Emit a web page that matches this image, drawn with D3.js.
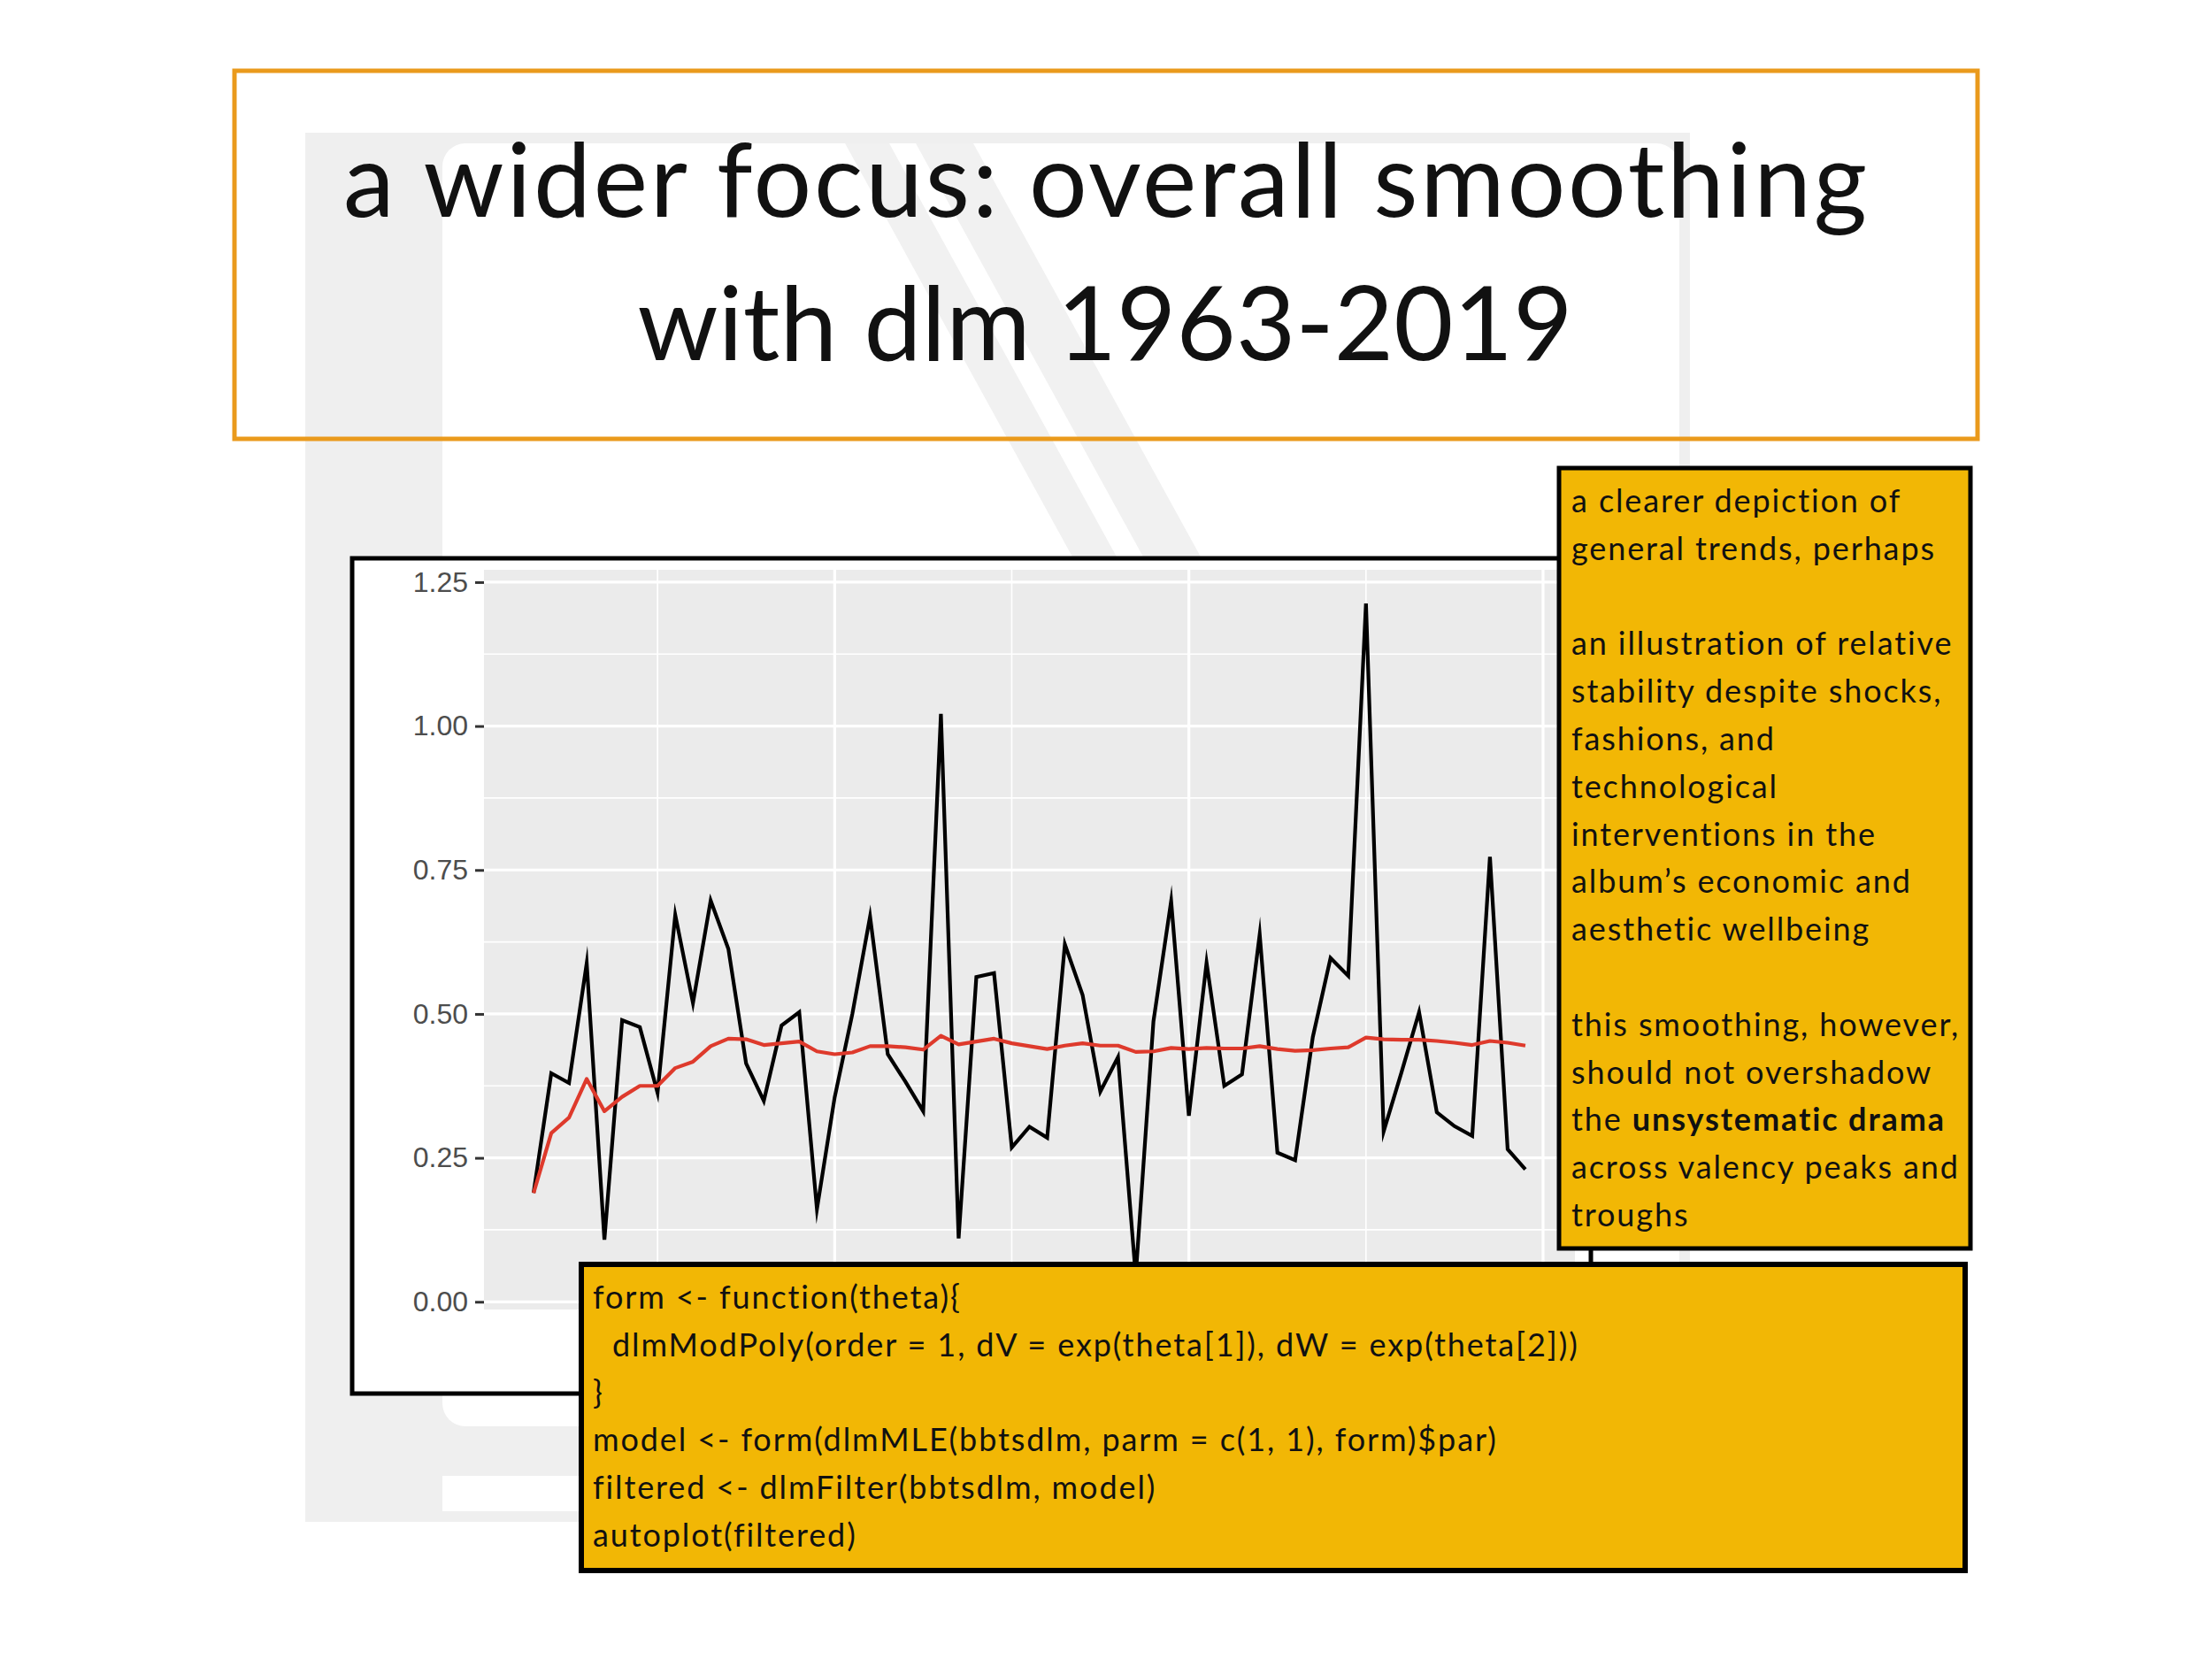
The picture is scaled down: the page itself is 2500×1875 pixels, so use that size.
<!DOCTYPE html>
<html><head><meta charset="utf-8">
<script src="https://cdn.jsdelivr.net/npm/d3@7"></script>
<style>body{margin:0;background:#fff} svg{display:block}</style>
</head><body>
<svg id="c" width="2500" height="1875"></svg>
<script>
// ---------- data ----------
const years = [1963,1964,1965,1966,1967,1968,1969,1970,1971,1972,1973,1974,1975,1976,1977,1978,1979,
  1980,1981,1982,1983,1984,1985,1986,1987,1988,1989,1990,1991,1992,1993,1994,1995,1996,1997,1998,1999,
  2000,2001,2002,2003,2004,2005,2006,2007,2008,2009,2010,2011,2012,2013,2014,2015,2016,2017,2018,2019];
const observed = [0.189,0.397,0.380,0.588,0.108,0.489,0.477,0.363,0.672,0.519,0.697,0.613,0.414,0.349,0.480,0.503,0.161,
  0.355,0.500,0.669,0.430,0.382,0.331,1.021,0.110,0.564,0.571,0.268,0.304,0.285,0.621,0.533,0.365,0.425,0.045,0.487,0.696,
  0.323,0.589,0.375,0.395,0.638,0.259,0.246,0.460,0.597,0.566,1.213,0.296,0.398,0.503,0.329,0.305,0.288,0.773,0.265,0.230];
const filtered = [0.189,0.293,0.320,0.387,0.331,0.356,0.375,0.375,0.406,0.417,0.444,0.457,0.456,0.446,0.449,0.452,0.435,
  0.430,0.433,0.444,0.444,0.442,0.438,0.462,0.447,0.452,0.457,0.449,0.444,0.439,0.445,0.449,0.445,0.445,0.434,0.435,0.441,
  0.439,0.441,0.440,0.440,0.444,0.439,0.436,0.437,0.440,0.442,0.459,0.456,0.455,0.455,0.453,0.450,0.446,0.453,0.450,0.445];
const yMajorTicks = [0, 0.25, 0.5, 0.75, 1.0, 1.25];
const yMinorTicks = [0.125, 0.375, 0.625, 0.875, 1.125];
const xMajorTicks = [1980, 2000, 2020];
const xMinorTicks = [1970, 1990, 2010];
const titleLines = ["a wider focus: overall smoothing", "with dlm 1963-2019"];
const noteLines = [
  [["a clearer depiction of", false]],
  [["general trends, perhaps", false]],
  [],
  [["an illustration of relative", false]],
  [["stability despite shocks,", false]],
  [["fashions, and", false]],
  [["technological", false]],
  [["interventions in the", false]],
  [["album\u2019s economic and", false]],
  [["aesthetic wellbeing", false]],
  [],
  [["this smoothing, however,", false]],
  [["should not overshadow", false]],
  [["the ", false], ["unsystematic drama", true]],
  [["across valency peaks and", false]],
  [["troughs", false]]
];
const codeLines = [
  "form <- function(theta){",
  "  dlmModPoly(order = 1, dV = exp(theta[1]), dW = exp(theta[2]))",
  "}",
  "model <- form(dlmMLE(bbtsdlm, parm = c(1, 1), form)$par)",
  "filtered <- dlmFilter(bbtsdlm, model)",
  "autoplot(filtered)"
];

// ---------- drawing ----------
const svg = d3.select("#c");
const SANS = "Lato, 'Noto Sans', sans-serif";
const YELLOW = "#F2B705";
const DECO = "#EFEFEF";

// faint background template decoration
const deco = svg.append("g");
deco.append("rect").attr("x",345).attr("y",150).attr("width",1565).attr("height",1570).attr("fill",DECO);
deco.append("rect").attr("x",500).attr("y",162).attr("width",1398).attr("height",1450).attr("rx",26).attr("fill","#FFFFFF");
deco.append("rect").attr("x",500).attr("y",1668).attr("width",1398).attr("height",40).attr("fill","#FFFFFF");
const bands = [[955,1005],[1035,1100]];
bands.forEach(b => {
  const s = 0.55, y0 = 162, y1 = 640, d = (y1 - y0) * s;
  deco.append("polygon")
    .attr("points", `${b[0]},${y0} ${b[1]},${y0} ${b[1]+d},${y1} ${b[0]+d},${y1}`)
    .attr("fill","#F1F1F1");
});

// title box
svg.append("rect").attr("x",265).attr("y",80).attr("width",1970).attr("height",416)
  .attr("fill","none").attr("stroke","#EA9A1C").attr("stroke-width",5);
const titleTargets = [1722, 1057];
const titleBase = [245, 407];
titleLines.forEach((t,i) => {
  svg.append("text").attr("x",1249).attr("y",titleBase[i]).attr("text-anchor","middle")
    .attr("font-family",SANS).attr("font-weight",400).attr("font-size",116).attr("fill","#111")
    .attr("textLength",titleTargets[i]).attr("lengthAdjust","spacing").text(t);
});

// chart frame
svg.append("rect").attr("x",398).attr("y",631).attr("width",1400).attr("height",944)
  .attr("fill","#fff").attr("stroke","#000").attr("stroke-width",5);

// scales
const xr = d3.extent(years), xpad = (xr[1]-xr[0])*0.05;
const x = d3.scaleLinear().domain([xr[0]-xpad, xr[1]+xpad]).range([547, 1780]);
const allV = observed.concat(filtered);
const yr = d3.extent(allV), ypad = (yr[1]-yr[0])*0.05;
const y = d3.scaleLinear().domain([yr[0]-ypad, yr[1]+ypad]).range([1480, 644]);

const plot = svg.append("g");
plot.append("rect").attr("x",x.range()[0]).attr("y",y.range()[1])
  .attr("width",x.range()[1]-x.range()[0]).attr("height",y.range()[0]-y.range()[1]).attr("fill","#EBEBEB");
// gridlines
plot.selectAll(".hmin").data(yMinorTicks).join("line")
  .attr("x1",x.range()[0]).attr("x2",x.range()[1]).attr("y1",d=>y(d)).attr("y2",d=>y(d))
  .attr("stroke","#fff").attr("stroke-width",1.7);
plot.selectAll(".vmin").data(xMinorTicks).join("line")
  .attr("y1",y.range()[0]).attr("y2",y.range()[1]).attr("x1",d=>x(d)).attr("x2",d=>x(d))
  .attr("stroke","#fff").attr("stroke-width",1.7);
plot.selectAll(".hmaj").data(yMajorTicks).join("line")
  .attr("x1",x.range()[0]).attr("x2",x.range()[1]).attr("y1",d=>y(d)).attr("y2",d=>y(d))
  .attr("stroke","#fff").attr("stroke-width",3.2);
plot.selectAll(".vmaj").data(xMajorTicks).join("line")
  .attr("y1",y.range()[0]).attr("y2",y.range()[1]).attr("x1",d=>x(d)).attr("x2",d=>x(d))
  .attr("stroke","#fff").attr("stroke-width",3.2);

// lines
const line = v => d3.line().x((d,i)=>x(years[i])).y(d=>y(d))(v);
plot.append("path").attr("d",line(observed)).attr("fill","none").attr("stroke","#000")
  .attr("stroke-width",4.2).attr("stroke-linejoin","miter").attr("stroke-miterlimit",10);
plot.append("path").attr("d",line(filtered)).attr("fill","none").attr("stroke","#DE3A2C")
  .attr("stroke-width",4.2).attr("stroke-linejoin","round");

// axes (x tick labels sit under the code box in the original, so only tick marks are drawn)
const yAxis = svg.append("g").attr("transform",`translate(${x.range()[0]},0)`)
  .call(d3.axisLeft(y).tickValues(yMajorTicks).tickFormat(d3.format(".2f")).tickSize(10).tickPadding(8));
yAxis.select(".domain").remove();
yAxis.selectAll(".tick line").attr("stroke","#333").attr("stroke-width",3);
yAxis.selectAll(".tick text").attr("fill","#4D4D4D")
  .attr("font-family","'Liberation Sans', Arial, sans-serif").attr("font-size",32);
const xAxis = svg.append("g").attr("transform",`translate(0,${y.range()[0]})`)
  .call(d3.axisBottom(x).tickValues(xMajorTicks).tickFormat("").tickSize(10));
xAxis.select(".domain").remove();
xAxis.selectAll(".tick text").remove();
xAxis.selectAll(".tick line").attr("stroke","#333").attr("stroke-width",3);

// helper: calibrate letter spacing so reference lines match widths
function calibrate(samples, size, weight) {
  let sum = 0;
  samples.forEach(([t, target]) => {
    const m = svg.append("text").attr("font-family",SANS).attr("font-size",size)
      .attr("font-weight",weight||400).text(t);
    const w = m.node().getComputedTextLength();
    m.remove();
    sum += (target - w) / (t.length - 1);
  });
  return sum / samples.length;
}

// right note box
svg.append("rect").attr("x",1762).attr("y",529).attr("width",465).attr("height",882)
  .attr("fill",YELLOW).attr("stroke","#000").attr("stroke-width",5);
const noteSize = 36;
const noteLS = calibrate([["general trends, perhaps",414],["across valency peaks and",435],["a clearer depiction of",370]], noteSize);
noteLines.forEach((segs,i) => {
  if (!segs.length) return;
  const t = svg.append("text").attr("x",1776).attr("y",579 + i*53.8)
    .attr("font-family",SANS).attr("font-size",noteSize).attr("fill","#111")
    .attr("letter-spacing",noteLS);
  segs.forEach(([s,b]) => t.append("tspan").attr("font-weight", b ? 700 : 400).text(s));
});

// code box
svg.append("rect").attr("x",657).attr("y",1429).attr("width",1564).attr("height",346)
  .attr("fill",YELLOW).attr("stroke","#000").attr("stroke-width",6);
const codeSize = 36;
const codeLS = calibrate([[codeLines[1].trim(),1083],[codeLines[3],1028]], codeSize);
codeLines.forEach((c,i) => {
  const indent = c.length - c.trimStart().length;
  svg.append("text").attr("x",670 + indent*11).attr("y",1479 + i*53.8)
    .attr("font-family",SANS).attr("font-size",codeSize).attr("fill","#111")
    .attr("letter-spacing",codeLS).text(c.trim());
});
</script>
</body></html>
